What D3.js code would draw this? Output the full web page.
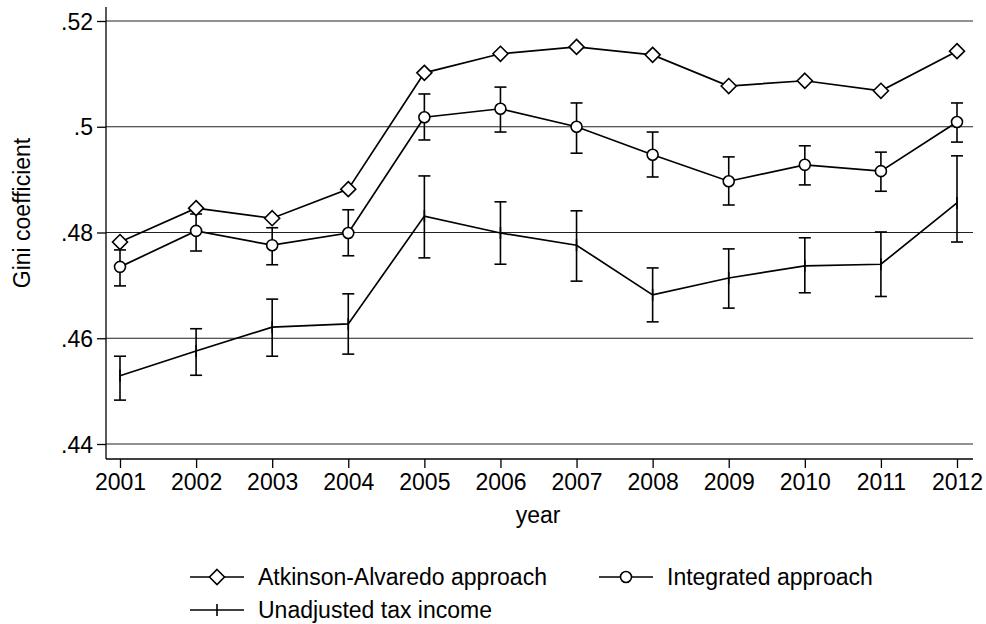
<!DOCTYPE html>
<html><head><meta charset="utf-8">
<script src="https://cdn.jsdelivr.net/npm/d3@7"></script>
<style>body{margin:0;background:#fff}text{font-family:Arial,"Liberation Sans",sans-serif}</style>
</head><body><svg id="c" width="986" height="624"></svg>
<script>
var years = [2001,2002,2003,2004,2005,2006,2007,2008,2009,2010,2011,2012];
var atkinson = [.4782,.4846,.4827,.4882,.5102,.5138,.5151,.5136,.5077,.5087,.5068,.5143];
var integrated = [.4735,.4803,.4776,.4799,.5018,.5034,.5000,.4947,.4897,.4928,.4916,.5009];
var integratedHi = [.4767,.4835,.4809,.4843,.5062,.5075,.5045,.4990,.4943,.4964,.4952,.5045];
var integratedLo = [.4699,.4765,.4739,.4756,.4975,.4990,.4950,.4905,.4852,.4890,.4878,.4971];
var unadjusted = [.4529,.4576,.4621,.4627,.4831,.4799,.4776,.4682,.4714,.4737,.4740,.4856];
var unadjustedHi = [.4566,.4618,.4674,.4684,.4907,.4858,.4841,.4733,.4769,.4790,.4801,.4945];
var unadjustedLo = [.4483,.4530,.4566,.4570,.4752,.4740,.4708,.4631,.4657,.4686,.4679,.4782];
var yTicks = [.44,.46,.48,.50,.52];
var yTickLabels = [".44",".46",".48",".5",".52"];

var svg = d3.select('#c');
var x = d3.scaleLinear().domain([2001,2012]).range([120,957]);
var y = d3.scaleLinear().domain([.44,.52]).range([444,21]);
var L = 106, R = 973, B = 459, T = 7;
var FS = '23px';

// gridlines
svg.selectAll('.grid').data(yTicks).enter().append('line')
  .attr('x1', L).attr('x2', R).attr('y1', y).attr('y2', y)
  .attr('stroke', '#222').attr('stroke-width', 1);

var yAxis = svg.append('g').attr('transform', 'translate(' + L + ',0)')
  .call(d3.axisLeft(y).tickValues(yTicks).tickFormat(function(d, i) { return yTickLabels[i]; }).tickSize(9).tickSizeOuter(0));
yAxis.select('.domain').attr('d', 'M0,' + T + 'V' + B);
var xAxis = svg.append('g').attr('transform', 'translate(0,' + B + ')')
  .call(d3.axisBottom(x).tickValues(years).tickFormat(d3.format('d')).tickSize(9).tickSizeOuter(0));
xAxis.select('.domain').attr('d', 'M' + L + ',0H' + R);
svg.selectAll('.domain, .tick line').attr('stroke-width', 1.3);
svg.selectAll('.tick text').style('font-size', FS).attr('fill', '#000');
yAxis.selectAll('.tick text').attr('dx', '-1').attr('dy', '0.35em');
xAxis.selectAll('.tick text').attr('y', 31).attr('dy', 0);

svg.append('text').attr('x', 538).attr('y', 523).attr('text-anchor', 'middle').style('font-size', FS).text('year');
svg.append('text').attr('transform', 'translate(30,213) rotate(-90)').attr('text-anchor', 'middle').style('font-size', FS).text('Gini coefficient');

var line = d3.line().x(function(d, i) { return x(years[i]); }).y(function(d) { return y(d); });

function errorBars(hi, lo) {
  var g = svg.append('g').attr('stroke', '#000').attr('stroke-width', 1.6);
  years.forEach(function(yr, i) {
    var cx = x(yr);
    g.append('line').attr('x1', cx).attr('x2', cx).attr('y1', y(hi[i])).attr('y2', y(lo[i]));
    g.append('line').attr('x1', cx - 6).attr('x2', cx + 6).attr('y1', y(hi[i])).attr('y2', y(hi[i]));
    g.append('line').attr('x1', cx - 6).attr('x2', cx + 6).attr('y1', y(lo[i])).attr('y2', y(lo[i]));
  });
}
errorBars(integratedHi, integratedLo);
errorBars(unadjustedHi, unadjustedLo);

[atkinson, integrated, unadjusted].forEach(function(s) {
  svg.append('path').attr('d', line(s)).attr('fill', 'none').attr('stroke', '#000').attr('stroke-width', 1.7);
});

function diamond(g, cx, cy) {
  g.append('path').attr('d', 'M' + cx + ',' + (cy - 7.5) + 'L' + (cx + 7.5) + ',' + cy + 'L' + cx + ',' + (cy + 7.5) + 'L' + (cx - 7.5) + ',' + cy + 'Z')
    .attr('fill', '#fff').attr('stroke', '#000').attr('stroke-width', 1.6);
}
function circle(g, cx, cy) {
  g.append('circle').attr('cx', cx).attr('cy', cy).attr('r', 5.5)
    .attr('fill', '#fff').attr('stroke', '#000').attr('stroke-width', 1.6);
}
function plus(g, cx, cy) {
  g.append('line').attr('x1', cx).attr('x2', cx).attr('y1', cy - 6).attr('y2', cy + 6).attr('stroke', '#000').attr('stroke-width', 1.6);
}
var mk = svg.append('g');
years.forEach(function(yr, i) {
  diamond(mk, x(yr), y(atkinson[i]));
  circle(mk, x(yr), y(integrated[i]));
  plus(mk, x(yr), y(unadjusted[i]));
});

// legend
var legend = [
  {label: 'Atkinson-Alvaredo approach', sym: diamond, lx: 190, ly: 577},
  {label: 'Integrated approach', sym: circle, lx: 599, ly: 577},
  {label: 'Unadjusted tax income', sym: plus, lx: 190, ly: 610}
];
legend.forEach(function(d) {
  svg.append('line').attr('x1', d.lx).attr('x2', d.lx + 54).attr('y1', d.ly).attr('y2', d.ly).attr('stroke', '#000').attr('stroke-width', 1.7);
  d.sym(svg, d.lx + 27, d.ly);
  svg.append('text').attr('x', d.lx + 68).attr('y', d.ly + 8).style('font-size', FS).text(d.label);
});
</script></body></html>
